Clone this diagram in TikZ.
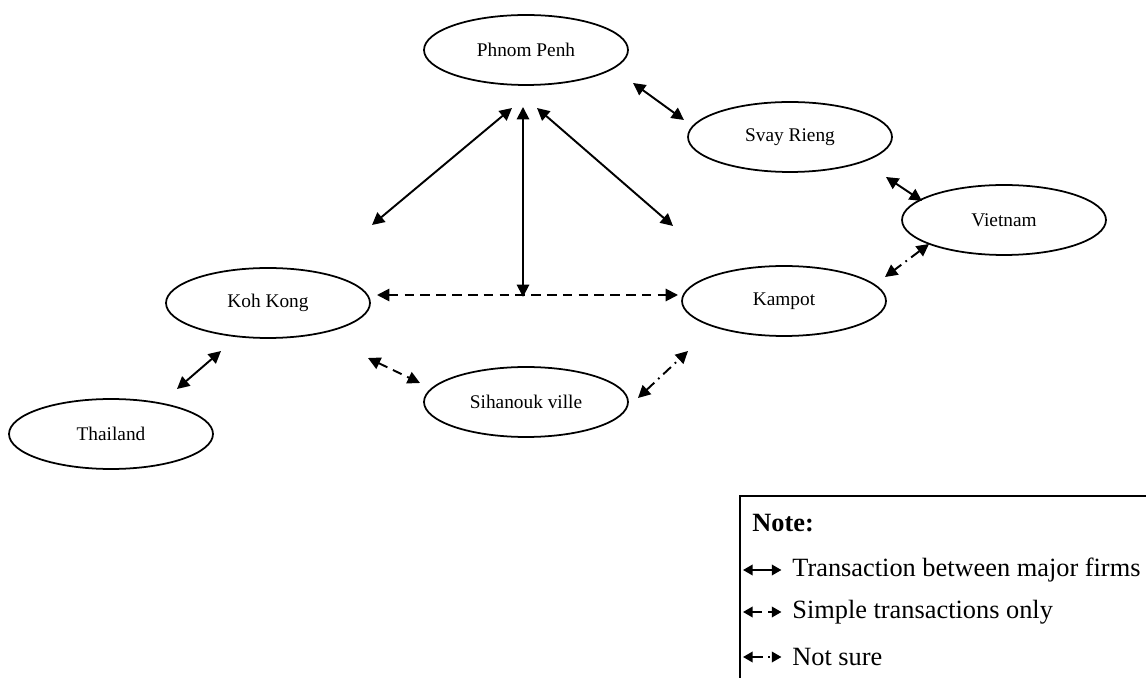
\documentclass[tikz,border=0pt]{standalone}
\usepackage{fontspec}
\setmainfont{Liberation Serif}
\usetikzlibrary{arrows.meta, shapes.geometric}

\begin{document}
\begin{tikzpicture}[
    x=0.02cm, y=-0.02cm,
    every node/.style={font=\fontsize{11}{13}\selectfont},
    town/.style={draw, ellipse, line width=1pt, minimum width=4.08cm, minimum height=1.4cm, inner sep=0pt},
    link/.style={{Triangle[length=7pt,width=7pt]}-{Triangle[length=7pt,width=7pt]}, line width=1.1pt},
    simple/.style={link, dash pattern=on 5.5pt off 3.5pt},
    unsure/.style={link, dash pattern=on 6pt off 3pt on 1pt off 3pt},
    keytips/.style={{Triangle[length=5.5pt,width=6pt]}-{Triangle[length=5.5pt,width=6pt]}},
    legend/.style={font=\fontsize{15}{18}\selectfont, anchor=west, inner sep=0pt}
]
\useasboundingbox (0,0) rectangle (1146,678);

% provinces
\foreach \n/\x/\y/\t in {pp/526/50/Phnom Penh, svay/790/137/Svay Rieng, viet/1004/220/Vietnam,
    kampot/784/301/Kampot, kk/268/303/Koh Kong, sihan/526/402/Sihanouk ville, thai/111/434/Thailand}
    \node[town] (\n) at (\x,\y) {\t};

% arrow ends
\coordinate (pp-kk) at (512,108);   \coordinate (kk-pp) at (372,225);
\coordinate (pp-kam) at (537,108);  \coordinate (kam-pp) at (673,226);
\coordinate (pp-mid) at (523,107);  \coordinate (mid-pp) at (523,297);
\coordinate (pp-svay) at (633,83);  \coordinate (svay-pp) at (684,120);
\coordinate (svay-viet) at (886,177); \coordinate (viet-svay) at (922,201);
\coordinate (viet-kam) at (929,244);  \coordinate (kam-viet) at (885,277);
\coordinate (kk-kam) at (377,295);  \coordinate (kam-kk) at (678,295);
\coordinate (kk-sih) at (368,358);  \coordinate (sih-kk) at (420,383);
\coordinate (sih-kam) at (638,398); \coordinate (kam-sih) at (688,351);
\coordinate (thai-kk) at (177,389); \coordinate (kk-thai) at (221,351);

\draw[link] (pp-kk) -- (kk-pp);
\draw[link] (pp-kam) -- (kam-pp);
\draw[link] (pp-mid) -- (mid-pp);
\draw[link] (pp-svay) -- (svay-pp);
\draw[link] (svay-viet) -- (viet-svay);
\draw[link] (thai-kk) -- (kk-thai);
\draw[simple] (kk-kam) -- (kam-kk);
\draw[simple] (kk-sih) -- (sih-kk);
\draw[unsure] (viet-kam) -- (kam-viet);
\draw[unsure] (sih-kam) -- (kam-sih);

% legend box, open to the page edge
\draw[line width=0.6pt] (740,496) rectangle (1160,700);
\node[legend, font=\bfseries\fontsize{15}{18}\selectfont] (note) at (752,523) {Note:};
\foreach \s/\n/\y/\t in {link/major/570/Transaction between major firms,
    simple/plain/612/Simple transactions only, unsure/notsure/657/Not sure} {
    \node[legend] (\n) at (792,\y) {\t};
    \coordinate (\n-key) at (743,\y);
    \draw[\s, keytips] (\n-key) -- ([xshift=-6]\n.west);
}
\end{tikzpicture}
\end{document}
